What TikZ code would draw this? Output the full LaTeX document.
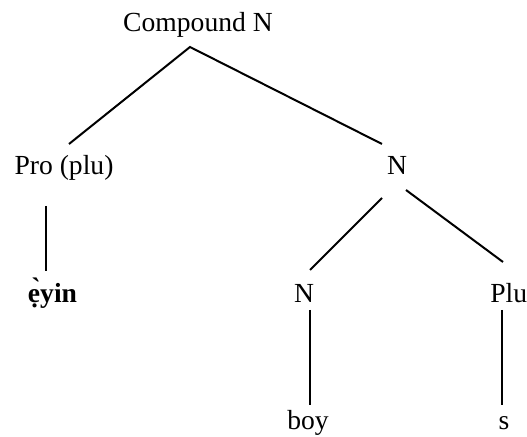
\documentclass[tikz,border=0pt]{standalone}
\usepackage{fontspec}
\setmainfont{Liberation Serif}
\begin{document}
\begin{tikzpicture}[x=0.5pt,y=-0.5pt,
  lbl/.style={inner sep=0pt,anchor=base,font=\fontsize{13.8}{16}\selectfont},
  edge/.style={line width=1pt,line cap=butt}]
\useasboundingbox (0,0) rectangle (527,437);
% labels
\node[lbl] (root) at (198,32) {Compound N};
\node[lbl] (pro) at (64,175) {Pro (plu)};
\node[lbl] (eyin) at (52.5,303) {\bfseries ẹ̀yin};
\node[lbl] (nmid) at (397,175) {N};
\node[lbl] (nlow) at (304,303) {N};
\node[lbl,anchor=base west] (plu) at (490,303) {Plu};
\node[lbl] (boy) at (308,430) {boy};
\node[lbl] (s) at (504,430) {s};
% connector ends
\coordinate (apex) at (190,47);
\coordinate (a1) at (69,144);
\coordinate (a2) at (382,144);
\coordinate (p1) at (46,206);
\coordinate (p2) at (46,271);
\coordinate (n1) at (382,198);
\coordinate (n2) at (310,270);
\coordinate (n3) at (406,190);
\coordinate (n4) at (503,262);
\coordinate (b1) at (310,310);
\coordinate (b2) at (310,405);
\coordinate (s1) at (502,310);
\coordinate (s2) at (502,405);
\draw[edge] (a1) -- (apex) -- (a2);
\draw[edge] (p1) -- (p2);
\draw[edge] (n1) -- (n2);
\draw[edge] (n3) -- (n4);
\draw[edge] (b1) -- (b2);
\draw[edge] (s1) -- (s2);
\end{tikzpicture}
\end{document}
